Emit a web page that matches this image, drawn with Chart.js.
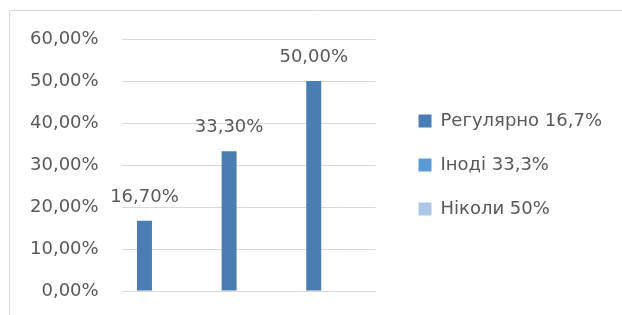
<!DOCTYPE html>
<html>
<head>
<meta charset="utf-8">
<script src="https://cdn.jsdelivr.net/npm/chart.js@4/dist/chart.umd.min.js"></script>
<style>
  html, body { margin: 0; padding: 0; background: #fff; }
  #wrap { width: 622px; height: 315px; position: relative; }
</style>
</head>
<body>
<div id="wrap"><canvas id="chart"></canvas></div>
<script>
// data: three series, only the first one has values
const categories = ['', '', ''];
const seriesNames = ['Регулярно 16,7%', 'Іноді 33,3%', 'Ніколи 50%'];
const regularValues = [0.167, 0.333, 0.50];
const sometimesValues = [null, null, null];
const neverValues = [null, null, null];
const yMin = 0, yMax = 0.6, yStep = 0.1;

const seriesColors = ['#4a7db1', '#5b9bd5', '#aec7e8'];
const textColor = '#595959';
const gridColor = '#d9d9d9';
const font = { family: 'DejaVu Sans', size: 18 };

function pct(v) {
    return (v * 100).toFixed(2).replace('.', ',') + '%';
}

// light frame round the chart, as in the original
const framePlugin = {
    id: 'frame',
    beforeInit(chart) {
        // let the legend take the width it needs instead of the default cap
        const legend = chart.legend;
        const fit = legend.fit;
        legend.fit = function() {
            this.maxWidth = 400;
            fit.call(this);
        };
    },
    beforeDraw(chart) {
        const ctx = chart.ctx;
        ctx.save();
        ctx.strokeStyle = gridColor;
        ctx.lineWidth = 1;
        ctx.beginPath();
        ctx.moveTo(9.5, chart.height);
        ctx.lineTo(9.5, 10.5);
        ctx.lineTo(chart.width, 10.5);
        ctx.stroke();
        ctx.restore();
    }
};

// value labels above the bars
const valueLabels = {
    id: 'valueLabels',
    afterDatasetsDraw(chart) {
        const ctx = chart.ctx;
        ctx.save();
        ctx.font = font.size + 'px "' + font.family + '"';
        ctx.fillStyle = textColor;
        ctx.textAlign = 'center';
        ctx.textBaseline = 'alphabetic';
        chart.data.datasets.forEach((ds, d) => {
            chart.getDatasetMeta(d).data.forEach((bar, i) => {
                if (ds.data[i] == null) return;
                ctx.fillText(pct(ds.data[i]), bar.x, bar.y - 19);
            });
        });
        ctx.restore();
    }
};

const seriesData = [regularValues, sometimesValues, neverValues];

new Chart(document.getElementById('chart'), {
    type: 'bar',
    data: {
        labels: categories,
        datasets: seriesNames.map((name, i) => ({
            label: name,
            data: seriesData[i],
            backgroundColor: seriesColors[i],
            borderColor: seriesColors[i],
            borderWidth: 0,
            categoryPercentage: 0.69,
            barPercentage: 0.77
        }))
    },
    options: {
        responsive: true,
        maintainAspectRatio: false,
        animation: false,
        layout: { padding: { top: 39, bottom: 24, left: 29, right: 10 } },
        scales: {
            x: { display: false },
            y: {
                min: yMin,
                max: yMax,
                ticks: {
                    stepSize: yStep,
                    padding: 1,
                    color: textColor,
                    font: font,
                    callback: v => pct(v)
                },
                grid: { color: gridColor, tickLength: 22, tickColor: 'rgba(0,0,0,0)' },
                border: { display: false }
            },
            gap: {
                type: 'linear',
                position: 'right',
                ticks: { display: false },
                grid: { display: false },
                border: { display: false },
                afterFit(s) { s.width = 17; }
            }
        },
        plugins: {
            tooltip: { enabled: false },
            legend: {
                position: 'right',
                labels: {
                    color: textColor,
                    font: font,
                    boxWidth: 13,
                    boxHeight: 13,
                    padding: 26
                }
            }
        }
    },
    plugins: [framePlugin, valueLabels]
});
</script>
</body>
</html>
